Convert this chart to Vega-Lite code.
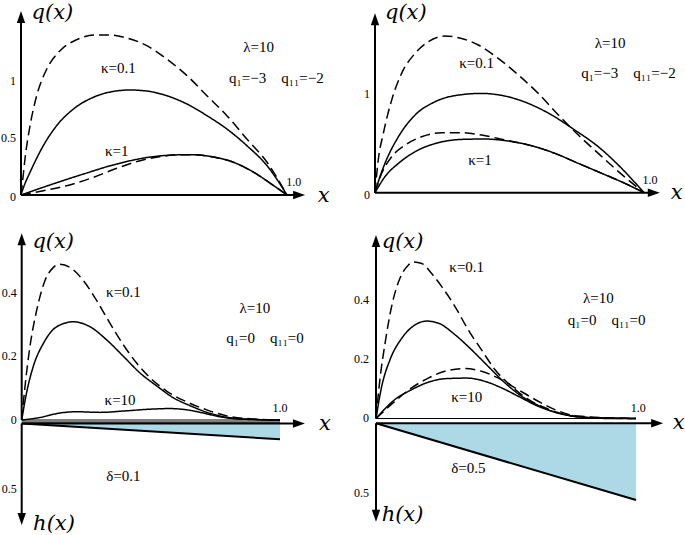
{
  "$schema": "https://vega.github.io/schema/vega-lite/v6.json",
  "padding": 0,
  "spacing": 0,
  "columns": 2,
  "bounds": "flush",
  "background": "white",
  "datasets": {
    "c1": [
      {"x":0,"y":0,"k":"0.1","m":"A"},{"x":0.01,"y":0.07,"k":"0.1","m":"A"},{"x":0.034,"y":0.199,"k":"0.1","m":"A"},{"x":0.084,"y":0.433,"k":"0.1","m":"A"},{"x":0.134,"y":0.608,"k":"0.1","m":"A"},{"x":0.197,"y":0.754,"k":"0.1","m":"A"},{"x":0.272,"y":0.857,"k":"0.1","m":"A"},{"x":0.348,"y":0.909,"k":"0.1","m":"A"},{"x":0.41,"y":0.921,"k":"0.1","m":"A"},{"x":0.473,"y":0.912,"k":"0.1","m":"A"},{"x":0.548,"y":0.871,"k":"0.1","m":"A"},{"x":0.624,"y":0.798,"k":"0.1","m":"A"},{"x":0.699,"y":0.696,"k":"0.1","m":"A"},{"x":0.774,"y":0.579,"k":"0.1","m":"A"},{"x":0.849,"y":0.433,"k":"0.1","m":"A"},{"x":0.925,"y":0.257,"k":"0.1","m":"A"},{"x":1,"y":0,"k":"0.1","m":"A"},
      {"x":0,"y":0,"k":"0.1","m":"B"},{"x":0.006,"y":0.12,"k":"0.1","m":"B"},{"x":0.015,"y":0.316,"k":"0.1","m":"B"},{"x":0.034,"y":0.608,"k":"0.1","m":"B"},{"x":0.059,"y":0.871,"k":"0.1","m":"B"},{"x":0.097,"y":1.105,"k":"0.1","m":"B"},{"x":0.147,"y":1.266,"k":"0.1","m":"B"},{"x":0.21,"y":1.363,"k":"0.1","m":"B"},{"x":0.285,"y":1.404,"k":"0.1","m":"B"},{"x":0.335,"y":1.404,"k":"0.1","m":"B"},{"x":0.398,"y":1.377,"k":"0.1","m":"B"},{"x":0.473,"y":1.31,"k":"0.1","m":"B"},{"x":0.548,"y":1.193,"k":"0.1","m":"B"},{"x":0.624,"y":1.047,"k":"0.1","m":"B"},{"x":0.699,"y":0.871,"k":"0.1","m":"B"},{"x":0.774,"y":0.696,"k":"0.1","m":"B"},{"x":0.849,"y":0.491,"k":"0.1","m":"B"},{"x":0.925,"y":0.287,"k":"0.1","m":"B"},{"x":1,"y":0,"k":"0.1","m":"B"},
      {"x":0,"y":0,"k":"1","m":"A"},{"x":0.109,"y":0.088,"k":"1","m":"A"},{"x":0.235,"y":0.184,"k":"1","m":"A"},{"x":0.36,"y":0.272,"k":"1","m":"A"},{"x":0.486,"y":0.333,"k":"1","m":"A"},{"x":0.573,"y":0.351,"k":"1","m":"A"},{"x":0.636,"y":0.354,"k":"1","m":"A"},{"x":0.724,"y":0.333,"k":"1","m":"A"},{"x":0.799,"y":0.287,"k":"1","m":"A"},{"x":0.875,"y":0.199,"k":"1","m":"A"},{"x":0.95,"y":0.082,"k":"1","m":"A"},{"x":1,"y":0,"k":"1","m":"A"},
      {"x":0,"y":0,"k":"1","m":"B"},{"x":0.084,"y":0.038,"k":"1","m":"B"},{"x":0.172,"y":0.082,"k":"1","m":"B"},{"x":0.272,"y":0.155,"k":"1","m":"B"},{"x":0.36,"y":0.234,"k":"1","m":"B"},{"x":0.448,"y":0.301,"k":"1","m":"B"},{"x":0.52,"y":0.335,"k":"1","m":"B"},{"x":0.573,"y":0.35,"k":"1","m":"B"},{"x":0.636,"y":0.354,"k":"1","m":"B"},{"x":0.724,"y":0.333,"k":"1","m":"B"},{"x":0.799,"y":0.287,"k":"1","m":"B"},{"x":0.875,"y":0.199,"k":"1","m":"B"},{"x":0.95,"y":0.082,"k":"1","m":"B"},{"x":1,"y":0,"k":"1","m":"B"}
    ],
    "a1": [{"x":0,"y":0,"x2":0,"y2":1.572},{"x":0,"y":0,"x2":1.05,"y2":0}],
    "h1": [{"x":0,"y":1.572,"dir":"up"},{"x":1.05,"y":0,"dir":"right"}],
    "t1": [
      {"x":0.893,"y":1.295,"t":"λ=10","g":"lab"},
      {"x":0.96,"y":1.023,"t":"q₁=−3\u2003q₁₁=−2","g":"lab"},
      {"x":0.366,"y":1.111,"t":"κ=0.1","g":"lab"},
      {"x":0.36,"y":0.389,"t":"κ=1","g":"lab"},
      {"x":1.025,"y":0.111,"t":"1.0","g":"sm"},
      {"x":0,"y":1,"t":"1","g":"tick"},
      {"x":0,"y":0.5,"t":"0.5","g":"tick"},
      {"x":0,"y":-0.02,"t":"0","g":"tick"},
      {"x":0.118,"y":1.594,"t":"q(x)","g":"var"},
      {"x":1.138,"y":-0.006,"t":"x","g":"var"}
    ],
    "c2": [
      {"x":0,"y":0,"k":"0.1","m":"A"},{"x":0.012,"y":0.11,"k":"0.1","m":"A"},{"x":0.037,"y":0.298,"k":"0.1","m":"A"},{"x":0.087,"y":0.569,"k":"0.1","m":"A"},{"x":0.149,"y":0.79,"k":"0.1","m":"A"},{"x":0.223,"y":0.925,"k":"0.1","m":"A"},{"x":0.31,"y":0.993,"k":"0.1","m":"A"},{"x":0.397,"y":1.01,"k":"0.1","m":"A"},{"x":0.483,"y":0.983,"k":"0.1","m":"A"},{"x":0.57,"y":0.908,"k":"0.1","m":"A"},{"x":0.657,"y":0.79,"k":"0.1","m":"A"},{"x":0.743,"y":0.637,"k":"0.1","m":"A"},{"x":0.83,"y":0.468,"k":"0.1","m":"A"},{"x":0.917,"y":0.247,"k":"0.1","m":"A"},{"x":1,"y":0,"k":"0.1","m":"A"},
      {"x":0,"y":0,"k":"0.1","m":"B"},{"x":0.012,"y":0.332,"k":"0.1","m":"B"},{"x":0.031,"y":0.603,"k":"0.1","m":"B"},{"x":0.062,"y":0.942,"k":"0.1","m":"B"},{"x":0.099,"y":1.214,"k":"0.1","m":"B"},{"x":0.149,"y":1.417,"k":"0.1","m":"B"},{"x":0.198,"y":1.536,"k":"0.1","m":"B"},{"x":0.26,"y":1.593,"k":"0.1","m":"B"},{"x":0.322,"y":1.569,"k":"0.1","m":"B"},{"x":0.384,"y":1.502,"k":"0.1","m":"B"},{"x":0.458,"y":1.366,"k":"0.1","m":"B"},{"x":0.533,"y":1.197,"k":"0.1","m":"B"},{"x":0.607,"y":1.01,"k":"0.1","m":"B"},{"x":0.682,"y":0.79,"k":"0.1","m":"B"},{"x":0.756,"y":0.586,"k":"0.1","m":"B"},{"x":0.83,"y":0.4,"k":"0.1","m":"B"},{"x":0.905,"y":0.214,"k":"0.1","m":"B"},{"x":1,"y":0,"k":"0.1","m":"B"},
      {"x":0,"y":0,"k":"1","m":"A"},{"x":0.037,"y":0.163,"k":"1","m":"A"},{"x":0.087,"y":0.298,"k":"1","m":"A"},{"x":0.149,"y":0.417,"k":"1","m":"A"},{"x":0.235,"y":0.508,"k":"1","m":"A"},{"x":0.322,"y":0.542,"k":"1","m":"A"},{"x":0.409,"y":0.546,"k":"1","m":"A"},{"x":0.496,"y":0.525,"k":"1","m":"A"},{"x":0.582,"y":0.478,"k":"1","m":"A"},{"x":0.669,"y":0.4,"k":"1","m":"A"},{"x":0.756,"y":0.298,"k":"1","m":"A"},{"x":0.843,"y":0.197,"k":"1","m":"A"},{"x":0.929,"y":0.095,"k":"1","m":"A"},{"x":1,"y":0,"k":"1","m":"A"},
      {"x":0,"y":0,"k":"1","m":"B"},{"x":0.025,"y":0.197,"k":"1","m":"B"},{"x":0.062,"y":0.366,"k":"1","m":"B"},{"x":0.112,"y":0.485,"k":"1","m":"B"},{"x":0.173,"y":0.569,"k":"1","m":"B"},{"x":0.248,"y":0.61,"k":"1","m":"B"},{"x":0.322,"y":0.61,"k":"1","m":"B"},{"x":0.397,"y":0.586,"k":"1","m":"B"},{"x":0.483,"y":0.536,"k":"1","m":"B"},{"x":0.582,"y":0.478,"k":"1","m":"B"},{"x":0.669,"y":0.4,"k":"1","m":"B"},{"x":0.756,"y":0.298,"k":"1","m":"B"},{"x":0.843,"y":0.197,"k":"1","m":"B"},{"x":0.929,"y":0.095,"k":"1","m":"B"},{"x":1,"y":0,"k":"1","m":"B"}
    ],
    "a2": [{"x":0,"y":0,"x2":0,"y2":1.776},{"x":0,"y":0,"x2":1.041,"y2":0}],
    "h2": [{"x":0,"y":1.776,"dir":"up"},{"x":1.041,"y":0,"dir":"right"}],
    "t2": [
      {"x":0.874,"y":1.519,"t":"λ=10","g":"lab"},
      {"x":0.942,"y":1.22,"t":"q₁=−3\u2003q₁₁=−2","g":"lab"},
      {"x":0.378,"y":1.315,"t":"κ=0.1","g":"lab"},
      {"x":0.39,"y":0.332,"t":"κ=1","g":"lab"},
      {"x":1.022,"y":0.129,"t":"1.0","g":"sm"},
      {"x":0,"y":1,"t":"1","g":"tick"},
      {"x":0,"y":-0.02,"t":"0","g":"tick"},
      {"x":0.1145,"y":1.831,"t":"q(x)","g":"var"},
      {"x":1.121,"y":-0.007,"t":"x","g":"var"}
    ],
    "c3": [
      {"x":0,"y":0,"k":"0.1","m":"B"},{"x":0.013,"y":0.107,"k":"0.1","m":"B"},{"x":0.032,"y":0.231,"k":"0.1","m":"B"},{"x":0.058,"y":0.345,"k":"0.1","m":"B"},{"x":0.09,"y":0.438,"k":"0.1","m":"B"},{"x":0.123,"y":0.48,"k":"0.1","m":"B"},{"x":0.148,"y":0.49,"k":"0.1","m":"B"},{"x":0.187,"y":0.48,"k":"0.1","m":"B"},{"x":0.239,"y":0.438,"k":"0.1","m":"B"},{"x":0.29,"y":0.376,"k":"0.1","m":"B"},{"x":0.342,"y":0.304,"k":"0.1","m":"B"},{"x":0.394,"y":0.236,"k":"0.1","m":"B"},{"x":0.445,"y":0.179,"k":"0.1","m":"B"},{"x":0.497,"y":0.133,"k":"0.1","m":"B"},{"x":0.561,"y":0.091,"k":"0.1","m":"B"},{"x":0.639,"y":0.057,"k":"0.1","m":"B"},{"x":0.716,"y":0.032,"k":"0.1","m":"B"},{"x":0.794,"y":0.013,"k":"0.1","m":"B"},{"x":0.897,"y":0.003,"k":"0.1","m":"B"},{"x":1,"y":0,"k":"0.1","m":"B"},
      {"x":0,"y":0,"k":"0.1","m":"A"},{"x":0.019,"y":0.086,"k":"0.1","m":"A"},{"x":0.045,"y":0.169,"k":"0.1","m":"A"},{"x":0.084,"y":0.241,"k":"0.1","m":"A"},{"x":0.135,"y":0.293,"k":"0.1","m":"A"},{"x":0.2,"y":0.309,"k":"0.1","m":"A"},{"x":0.265,"y":0.293,"k":"0.1","m":"A"},{"x":0.329,"y":0.252,"k":"0.1","m":"A"},{"x":0.394,"y":0.2,"k":"0.1","m":"A"},{"x":0.458,"y":0.148,"k":"0.1","m":"A"},{"x":0.523,"y":0.107,"k":"0.1","m":"A"},{"x":0.587,"y":0.07,"k":"0.1","m":"A"},{"x":0.652,"y":0.045,"k":"0.1","m":"A"},{"x":0.729,"y":0.021,"k":"0.1","m":"A"},{"x":0.819,"y":0.006,"k":"0.1","m":"A"},{"x":0.897,"y":0.002,"k":"0.1","m":"A"},{"x":1,"y":0,"k":"0.1","m":"A"},
      {"x":0,"y":0,"k":"10","m":"A"},{"x":0.071,"y":0.008,"k":"10","m":"A"},{"x":0.148,"y":0.022,"k":"10","m":"A"},{"x":0.213,"y":0.026,"k":"10","m":"A"},{"x":0.303,"y":0.024,"k":"10","m":"A"},{"x":0.406,"y":0.029,"k":"10","m":"A"},{"x":0.497,"y":0.034,"k":"10","m":"A"},{"x":0.574,"y":0.036,"k":"10","m":"A"},{"x":0.639,"y":0.032,"k":"10","m":"A"},{"x":0.703,"y":0.022,"k":"10","m":"A"},{"x":0.768,"y":0.01,"k":"10","m":"A"},{"x":0.845,"y":0.003,"k":"10","m":"A"},{"x":1,"y":0,"k":"10","m":"A"}
    ],
    "a3": [{"x":0,"y":0,"x2":0,"y2":0.572},{"x":0,"y":-0.011,"x2":1.078,"y2":-0.011}],
    "h3": [{"x":0,"y":0.572,"dir":"up"},{"x":1.078,"y":-0.011,"dir":"right"}],
    "base3": [{"x":0,"y":0,"x2":1,"y2":0}],
    "band3": [{"x":0,"y":-0.004},{"x":1,"y":-0.004}],
    "t3": [
      {"x":0.394,"y":0.403,"t":"κ=0.1","g":"lab"},
      {"x":0.903,"y":0.351,"t":"λ=10","g":"lab"},
      {"x":0.942,"y":0.257,"t":"q₁=0\u2003q₁₁=0","g":"lab"},
      {"x":0.381,"y":0.063,"t":"κ=10","g":"lab"},
      {"x":1.0,"y":0.037,"t":"1.0","g":"sm"},
      {"x":0,"y":0.4,"t":"0.4","g":"tick"},
      {"x":0,"y":0.2,"t":"0.2","g":"tick"},
      {"x":0,"y":0,"t":"0","g":"tick"},
      {"x":0.122,"y":0.561,"t":"q(x)","g":"var"},
      {"x":1.174,"y":-0.011,"t":"x","g":"var"}
    ],
    "d3": [{"x":0,"y":0},{"x":1,"y":0.12}],
    "ah3": [{"x":0,"y":0,"x2":0,"y2":0.735}],
    "hh3": [{"x":0,"y":0.735,"dir":"down"}],
    "th3": [
      {"x":0.394,"y":0.399,"t":"δ=0.1","g":"lab"},
      {"x":0,"y":0.5,"t":"0.5","g":"tick"},
      {"x":0.125,"y":0.764,"t":"h(x)","g":"var"}
    ],
    "c4": [
      {"x":0,"y":0,"k":"0.1","m":"B"},{"x":0.015,"y":0.131,"k":"0.1","m":"B"},{"x":0.035,"y":0.254,"k":"0.1","m":"B"},{"x":0.06,"y":0.377,"k":"0.1","m":"B"},{"x":0.092,"y":0.472,"k":"0.1","m":"B"},{"x":0.124,"y":0.516,"k":"0.1","m":"B"},{"x":0.144,"y":0.527,"k":"0.1","m":"B"},{"x":0.176,"y":0.522,"k":"0.1","m":"B"},{"x":0.214,"y":0.488,"k":"0.1","m":"B"},{"x":0.253,"y":0.444,"k":"0.1","m":"B"},{"x":0.304,"y":0.377,"k":"0.1","m":"B"},{"x":0.355,"y":0.298,"k":"0.1","m":"B"},{"x":0.406,"y":0.231,"k":"0.1","m":"B"},{"x":0.458,"y":0.164,"k":"0.1","m":"B"},{"x":0.522,"y":0.108,"k":"0.1","m":"B"},{"x":0.586,"y":0.064,"k":"0.1","m":"B"},{"x":0.65,"y":0.036,"k":"0.1","m":"B"},{"x":0.727,"y":0.013,"k":"0.1","m":"B"},{"x":0.829,"y":0.002,"k":"0.1","m":"B"},{"x":1,"y":0,"k":"0.1","m":"B"},
      {"x":0,"y":0,"k":"0.1","m":"A"},{"x":0.022,"y":0.108,"k":"0.1","m":"A"},{"x":0.054,"y":0.198,"k":"0.1","m":"A"},{"x":0.099,"y":0.27,"k":"0.1","m":"A"},{"x":0.15,"y":0.315,"k":"0.1","m":"A"},{"x":0.195,"y":0.328,"k":"0.1","m":"A"},{"x":0.24,"y":0.321,"k":"0.1","m":"A"},{"x":0.304,"y":0.282,"k":"0.1","m":"A"},{"x":0.368,"y":0.231,"k":"0.1","m":"A"},{"x":0.432,"y":0.175,"k":"0.1","m":"A"},{"x":0.496,"y":0.12,"k":"0.1","m":"A"},{"x":0.56,"y":0.075,"k":"0.1","m":"A"},{"x":0.624,"y":0.044,"k":"0.1","m":"A"},{"x":0.688,"y":0.021,"k":"0.1","m":"A"},{"x":0.778,"y":0.006,"k":"0.1","m":"A"},{"x":0.906,"y":0,"k":"0.1","m":"A"},{"x":1,"y":0,"k":"0.1","m":"A"},
      {"x":0,"y":0,"k":"10","m":"B"},{"x":0.073,"y":0.058,"k":"10","m":"B"},{"x":0.137,"y":0.103,"k":"10","m":"B"},{"x":0.201,"y":0.136,"k":"10","m":"B"},{"x":0.265,"y":0.159,"k":"10","m":"B"},{"x":0.342,"y":0.168,"k":"10","m":"B"},{"x":0.406,"y":0.159,"k":"10","m":"B"},{"x":0.471,"y":0.136,"k":"10","m":"B"},{"x":0.547,"y":0.097,"k":"10","m":"B"},{"x":0.624,"y":0.058,"k":"10","m":"B"},{"x":0.688,"y":0.03,"k":"10","m":"B"},{"x":0.778,"y":0.008,"k":"10","m":"B"},{"x":1,"y":0,"k":"10","m":"B"},
      {"x":0,"y":0,"k":"10","m":"A"},{"x":0.073,"y":0.064,"k":"10","m":"A"},{"x":0.137,"y":0.097,"k":"10","m":"A"},{"x":0.201,"y":0.122,"k":"10","m":"A"},{"x":0.265,"y":0.134,"k":"10","m":"A"},{"x":0.349,"y":0.136,"k":"10","m":"A"},{"x":0.419,"y":0.125,"k":"10","m":"A"},{"x":0.483,"y":0.103,"k":"10","m":"A"},{"x":0.547,"y":0.075,"k":"10","m":"A"},{"x":0.624,"y":0.041,"k":"10","m":"A"},{"x":0.701,"y":0.019,"k":"10","m":"A"},{"x":0.804,"y":0.004,"k":"10","m":"A"},{"x":1,"y":0,"k":"10","m":"A"}
    ],
    "a4": [{"x":0,"y":0,"x2":0,"y2":0.602},{"x":0,"y":-0.016,"x2":1.086,"y2":-0.016}],
    "h4": [{"x":0,"y":0.602,"dir":"up"},{"x":1.086,"y":-0.016,"dir":"right"}],
    "base4": [{"x":0,"y":0,"x2":1,"y2":0}],
    "t4": [
      {"x":0.349,"y":0.511,"t":"κ=0.1","g":"lab"},
      {"x":0.855,"y":0.405,"t":"λ=10","g":"lab"},
      {"x":0.887,"y":0.332,"t":"q₁=0\u2003q₁₁=0","g":"lab"},
      {"x":0.349,"y":0.073,"t":"κ=10","g":"lab"},
      {"x":1.009,"y":0.034,"t":"1.0","g":"sm"},
      {"x":0,"y":0.4,"t":"0.4","g":"tick"},
      {"x":0,"y":0.2,"t":"0.2","g":"tick"},
      {"x":0,"y":0,"t":"0","g":"tick"},
      {"x":0.102,"y":0.593,"t":"q(x)","g":"var"},
      {"x":1.164,"y":-0.016,"t":"x","g":"var"}
    ],
    "d4": [{"x":0,"y":0},{"x":1,"y":0.553}],
    "ah4": [{"x":0,"y":0,"x2":0,"y2":0.674}],
    "hh4": [{"x":0,"y":0.674,"dir":"down"}],
    "th4": [
      {"x":0.355,"y":0.323,"t":"δ=0.5","g":"lab"},
      {"x":0,"y":0.5,"t":"0.5","g":"tick"},
      {"x":0.102,"y":0.661,"t":"h(x)","g":"var"}
    ]
  },
  "concat": [
    {
      "width": 345, "height": 210,
      "encoding": {
        "x": {"field": "x", "type": "quantitative", "scale": {"domain": [-0.0789, 1.218]}, "axis": null},
        "y": {"field": "y", "type": "quantitative", "scale": {"domain": [-0.1316, 1.7105]}, "axis": null}
      },
      "layer": [
        {"data": {"name": "c1"}, "mark": {"type": "line", "interpolate": "monotone", "color": "black", "strokeWidth": 1.5},
         "encoding": {"detail": {"field": "k"}, "strokeDash": {"field": "m", "type": "nominal", "scale": {"domain": ["A", "B"], "range": [[1, 0], [10, 5]]}, "legend": null}}},
        {"data": {"name": "a1"}, "mark": {"type": "rule", "color": "black", "strokeWidth": 2},
         "encoding": {"x2": {"field": "x2"}, "y2": {"field": "y2"}}},
        {"data": {"name": "h1"}, "mark": {"type": "point", "filled": true, "color": "black", "opacity": 1, "size": 576, "strokeWidth": 0},
         "encoding": {"shape": {"field": "dir", "type": "nominal", "scale": {"domain": ["up", "right", "down"], "range": ["M0,-0.4L-0.35,0.6L0.35,0.6Z", "M0.4,0L-0.6,-0.35L-0.6,0.35Z", "M0,0.4L-0.35,-0.6L0.35,-0.6Z"]}, "legend": null}}},
        {"data": {"name": "t1"}, "transform": [{"filter": "datum.g === 'lab'"}], "mark": {"type": "text", "fontSize": 15, "font": "Liberation Serif"}, "encoding": {"text": {"field": "t"}}},
        {"data": {"name": "t1"}, "transform": [{"filter": "datum.g === 'sm'"}], "mark": {"type": "text", "fontSize": 12, "font": "Liberation Serif"}, "encoding": {"text": {"field": "t"}}},
        {"data": {"name": "t1"}, "transform": [{"filter": "datum.g === 'tick'"}], "mark": {"type": "text", "fontSize": 12, "font": "Liberation Serif", "align": "right", "dx": -5}, "encoding": {"text": {"field": "t"}}},
        {"data": {"name": "t1"}, "transform": [{"filter": "datum.g === 'var'"}], "mark": {"type": "text", "fontSize": 21, "font": "DejaVu Serif", "fontStyle": "italic"}, "encoding": {"text": {"field": "t"}}}
      ]
    },
    {
      "width": 340, "height": 210,
      "encoding": {
        "x": {"field": "x", "type": "quantitative", "scale": {"domain": [-0.1115, 1.1524]}, "axis": null},
        "y": {"field": "y", "type": "quantitative", "scale": {"domain": [-0.176, 1.96]}, "axis": null}
      },
      "layer": [
        {"data": {"name": "c2"}, "mark": {"type": "line", "interpolate": "monotone", "color": "black", "strokeWidth": 1.5},
         "encoding": {"detail": {"field": "k"}, "strokeDash": {"field": "m", "type": "nominal", "scale": {"domain": ["A", "B"], "range": [[1, 0], [10, 5]]}, "legend": null}}},
        {"data": {"name": "a2"}, "mark": {"type": "rule", "color": "black", "strokeWidth": 2},
         "encoding": {"x2": {"field": "x2"}, "y2": {"field": "y2"}}},
        {"data": {"name": "h2"}, "mark": {"type": "point", "filled": true, "color": "black", "opacity": 1, "size": 576, "strokeWidth": 0},
         "encoding": {"shape": {"field": "dir", "type": "nominal", "scale": {"domain": ["up", "right", "down"], "range": ["M0,-0.4L-0.35,0.6L0.35,0.6Z", "M0.4,0L-0.6,-0.35L-0.6,0.35Z", "M0,0.4L-0.35,-0.6L0.35,-0.6Z"]}, "legend": null}}},
        {"data": {"name": "t2"}, "transform": [{"filter": "datum.g === 'lab'"}], "mark": {"type": "text", "fontSize": 15, "font": "Liberation Serif"}, "encoding": {"text": {"field": "t"}}},
        {"data": {"name": "t2"}, "transform": [{"filter": "datum.g === 'sm'"}], "mark": {"type": "text", "fontSize": 12, "font": "Liberation Serif"}, "encoding": {"text": {"field": "t"}}},
        {"data": {"name": "t2"}, "transform": [{"filter": "datum.g === 'tick'"}], "mark": {"type": "text", "fontSize": 12, "font": "Liberation Serif", "align": "right", "dx": -5}, "encoding": {"text": {"field": "t"}}},
        {"data": {"name": "t2"}, "transform": [{"filter": "datum.g === 'var'"}], "mark": {"type": "text", "fontSize": 21, "font": "DejaVu Serif", "fontStyle": "italic"}, "encoding": {"text": {"field": "t"}}}
      ]
    },
    {
      "width": 345, "height": 325,
      "encoding": {
        "x": {"field": "x", "type": "quantitative", "scale": {"domain": [-0.084, 1.2517]}, "axis": null}
      },
      "layer": [
        {
          "encoding": {"y": {"field": "y", "type": "quantitative", "scale": {"domain": [-1.6223, 0.8473], "reverse": true}, "axis": null}},
          "layer": [
            {"data": {"name": "d3"}, "mark": {"type": "area", "color": "#add8e6", "opacity": 1}, "encoding": {"y2": {"datum": 0}}},
            {"data": {"name": "d3"}, "mark": {"type": "line", "color": "black", "strokeWidth": 2}},
            {"data": {"name": "ah3"}, "mark": {"type": "rule", "color": "black", "strokeWidth": 2}, "encoding": {"x2": {"field": "x2"}, "y2": {"field": "y2"}}},
            {"data": {"name": "hh3"}, "mark": {"type": "point", "filled": true, "color": "black", "opacity": 1, "size": 576, "strokeWidth": 0},
             "encoding": {"shape": {"field": "dir", "type": "nominal", "scale": {"domain": ["up", "right", "down"], "range": ["M0,-0.4L-0.35,0.6L0.35,0.6Z", "M0.4,0L-0.6,-0.35L-0.6,0.35Z", "M0,0.4L-0.35,-0.6L0.35,-0.6Z"]}, "legend": null}}},
            {"data": {"name": "th3"}, "transform": [{"filter": "datum.g === 'lab'"}], "mark": {"type": "text", "fontSize": 15, "font": "Liberation Serif"}, "encoding": {"text": {"field": "t"}}},
            {"data": {"name": "th3"}, "transform": [{"filter": "datum.g === 'tick'"}], "mark": {"type": "text", "fontSize": 12, "font": "Liberation Serif", "align": "right", "dx": -5}, "encoding": {"text": {"field": "t"}}},
            {"data": {"name": "th3"}, "transform": [{"filter": "datum.g === 'var'"}], "mark": {"type": "text", "fontSize": 21, "font": "DejaVu Serif", "fontStyle": "italic"}, "encoding": {"text": {"field": "t"}}}
          ]
        },
        {
          "encoding": {"y": {"field": "y", "type": "quantitative", "scale": {"domain": [-0.3616, 0.6604]}, "axis": null}},
          "layer": [
            {"data": {"name": "band3"}, "mark": {"type": "area", "color": "#555555", "opacity": 1}, "encoding": {"y2": {"datum": -0.011}}},
            {"data": {"name": "base3"}, "mark": {"type": "rule", "color": "black", "strokeWidth": 1}, "encoding": {"x2": {"field": "x2"}, "y2": {"field": "y2"}}},
            {"data": {"name": "c3"}, "mark": {"type": "line", "interpolate": "monotone", "color": "black", "strokeWidth": 1.5},
             "encoding": {"detail": {"field": "k"}, "strokeDash": {"field": "m", "type": "nominal", "scale": {"domain": ["A", "B"], "range": [[1, 0], [10, 5]]}, "legend": null}}},
            {"data": {"name": "a3"}, "mark": {"type": "rule", "color": "black", "strokeWidth": 2}, "encoding": {"x2": {"field": "x2"}, "y2": {"field": "y2"}}},
            {"data": {"name": "h3"}, "mark": {"type": "point", "filled": true, "color": "black", "opacity": 1, "size": 576, "strokeWidth": 0},
             "encoding": {"shape": {"field": "dir", "type": "nominal", "scale": {"domain": ["up", "right", "down"], "range": ["M0,-0.4L-0.35,0.6L0.35,0.6Z", "M0.4,0L-0.6,-0.35L-0.6,0.35Z", "M0,0.4L-0.35,-0.6L0.35,-0.6Z"]}, "legend": null}}},
            {"data": {"name": "t3"}, "transform": [{"filter": "datum.g === 'lab'"}], "mark": {"type": "text", "fontSize": 15, "font": "Liberation Serif"}, "encoding": {"text": {"field": "t"}}},
            {"data": {"name": "t3"}, "transform": [{"filter": "datum.g === 'sm'"}], "mark": {"type": "text", "fontSize": 12, "font": "Liberation Serif"}, "encoding": {"text": {"field": "t"}}},
            {"data": {"name": "t3"}, "transform": [{"filter": "datum.g === 'tick'"}], "mark": {"type": "text", "fontSize": 12, "font": "Liberation Serif", "align": "right", "dx": -5}, "encoding": {"text": {"field": "t"}}},
            {"data": {"name": "t3"}, "transform": [{"filter": "datum.g === 'var'"}], "mark": {"type": "text", "fontSize": 21, "font": "DejaVu Serif", "fontStyle": "italic"}, "encoding": {"text": {"field": "t"}}}
          ]
        }
      ],
      "resolve": {"scale": {"y": "independent"}}
    },
    {
      "width": 340, "height": 325,
      "encoding": {
        "x": {"field": "x", "type": "quantitative", "scale": {"domain": [-0.1192, 1.1885]}, "axis": null}
      },
      "layer": [
        {
          "encoding": {"y": {"field": "y", "type": "quantitative", "scale": {"domain": [-1.5367, 0.8048], "reverse": true}, "axis": null}},
          "layer": [
            {"data": {"name": "d4"}, "mark": {"type": "area", "color": "#add8e6", "opacity": 1}, "encoding": {"y2": {"datum": 0}}},
            {"data": {"name": "d4"}, "mark": {"type": "line", "color": "black", "strokeWidth": 2}},
            {"data": {"name": "ah4"}, "mark": {"type": "rule", "color": "black", "strokeWidth": 2}, "encoding": {"x2": {"field": "x2"}, "y2": {"field": "y2"}}},
            {"data": {"name": "hh4"}, "mark": {"type": "point", "filled": true, "color": "black", "opacity": 1, "size": 576, "strokeWidth": 0},
             "encoding": {"shape": {"field": "dir", "type": "nominal", "scale": {"domain": ["up", "right", "down"], "range": ["M0,-0.4L-0.35,0.6L0.35,0.6Z", "M0.4,0L-0.6,-0.35L-0.6,0.35Z", "M0,0.4L-0.35,-0.6L0.35,-0.6Z"]}, "legend": null}}},
            {"data": {"name": "th4"}, "transform": [{"filter": "datum.g === 'lab'"}], "mark": {"type": "text", "fontSize": 15, "font": "Liberation Serif"}, "encoding": {"text": {"field": "t"}}},
            {"data": {"name": "th4"}, "transform": [{"filter": "datum.g === 'tick'"}], "mark": {"type": "text", "fontSize": 12, "font": "Liberation Serif", "align": "right", "dx": -7}, "encoding": {"text": {"field": "t"}}},
            {"data": {"name": "th4"}, "transform": [{"filter": "datum.g === 'var'"}], "mark": {"type": "text", "fontSize": 21, "font": "DejaVu Serif", "fontStyle": "italic"}, "encoding": {"text": {"field": "t"}}}
          ]
        },
        {
          "encoding": {"y": {"field": "y", "type": "quantitative", "scale": {"domain": [-0.3923, 0.702]}, "axis": null}},
          "layer": [
            {"data": {"name": "base4"}, "mark": {"type": "rule", "color": "black", "strokeWidth": 1}, "encoding": {"x2": {"field": "x2"}, "y2": {"field": "y2"}}},
            {"data": {"name": "c4"}, "mark": {"type": "line", "interpolate": "monotone", "color": "black", "strokeWidth": 1.5},
             "encoding": {"detail": {"field": "k"}, "strokeDash": {"field": "m", "type": "nominal", "scale": {"domain": ["A", "B"], "range": [[1, 0], [10, 5]]}, "legend": null}}},
            {"data": {"name": "a4"}, "mark": {"type": "rule", "color": "black", "strokeWidth": 2}, "encoding": {"x2": {"field": "x2"}, "y2": {"field": "y2"}}},
            {"data": {"name": "h4"}, "mark": {"type": "point", "filled": true, "color": "black", "opacity": 1, "size": 576, "strokeWidth": 0},
             "encoding": {"shape": {"field": "dir", "type": "nominal", "scale": {"domain": ["up", "right", "down"], "range": ["M0,-0.4L-0.35,0.6L0.35,0.6Z", "M0.4,0L-0.6,-0.35L-0.6,0.35Z", "M0,0.4L-0.35,-0.6L0.35,-0.6Z"]}, "legend": null}}},
            {"data": {"name": "t4"}, "transform": [{"filter": "datum.g === 'lab'"}], "mark": {"type": "text", "fontSize": 15, "font": "Liberation Serif"}, "encoding": {"text": {"field": "t"}}},
            {"data": {"name": "t4"}, "transform": [{"filter": "datum.g === 'sm'"}], "mark": {"type": "text", "fontSize": 12, "font": "Liberation Serif"}, "encoding": {"text": {"field": "t"}}},
            {"data": {"name": "t4"}, "transform": [{"filter": "datum.g === 'tick'"}], "mark": {"type": "text", "fontSize": 12, "font": "Liberation Serif", "align": "right", "dx": -7}, "encoding": {"text": {"field": "t"}}},
            {"data": {"name": "t4"}, "transform": [{"filter": "datum.g === 'var'"}], "mark": {"type": "text", "fontSize": 21, "font": "DejaVu Serif", "fontStyle": "italic"}, "encoding": {"text": {"field": "t"}}}
          ]
        }
      ],
      "resolve": {"scale": {"y": "independent"}}
    }
  ],
  "config": {
    "view": {"stroke": null},
    "axis": {"disable": true},
    "text": {"font": "Liberation Serif", "baseline": "middle"}
  }
}
